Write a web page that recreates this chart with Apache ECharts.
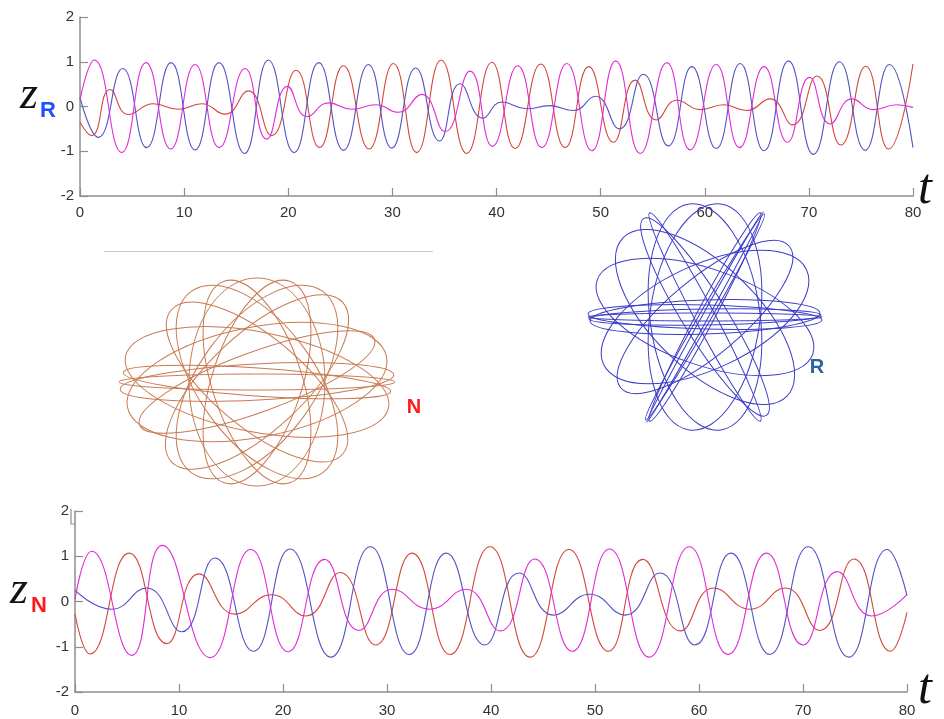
<!DOCTYPE html>
<html>
<head>
<meta charset="utf-8">
<script src="https://cdn.jsdelivr.net/npm/echarts@6/dist/echarts.min.js"></script>
<style>html,body{margin:0;padding:0;background:#fff}#c{width:944px;height:719px}</style>
</head>
<body>
<div id="c"></div>
<script>
// ---- data ----
var xTicks = [0, 10, 20, 30, 40, 50, 60, 70, 80];
var yTicks = [-2, -1, 0, 1, 2];

// top panel z_R : [t, value] at turning points
var topRed = [[0,-0.35],[1.12,-0.65],[2.88,0.38],[4.64,-0.18],[7.04,0.06],[9.45,-0.06],[11.69,0.06],[13.93,-0.17],[16.17,0.35],[18.41,-0.65],[20.75,0.81],[23.0,-0.92],[25.3,0.91],[27.76,-0.95],[30.1,0.96],[32.34,-1.03],[34.68,1.04],[37.14,-1.05],[39.55,0.99],[41.79,-0.94],[44.25,0.95],[46.59,-0.92],[48.86,0.89],[51.23,-0.8],[53.31,0.59],[55.33,-0.3],[57.32,0.14],[59.56,-0.07],[61.8,0.04],[64.04,-0.09],[66.28,0.17],[68.46,-0.41],[70.77,0.68],[73.07,-0.86],[75.47,0.9],[77.65,-0.95],[80,0.95]];
var topBlue = [[0,0.2],[1.76,-0.69],[4.1,0.85],[6.4,-0.92],[8.74,0.98],[11.05,-0.97],[13.35,0.98],[15.79,-1.05],[18.09,1.04],[20.56,-1.03],[22.93,0.98],[25.3,-0.98],[27.7,0.94],[29.94,-0.93],[32.24,0.86],[34.52,-0.77],[36.5,0.51],[38.68,-0.26],[40.5,0.1],[42.9,-0.05],[45.1,0.02],[47.4,-0.09],[49.5,0.23],[51.8,-0.5],[54.1,0.72],[56.5,-0.88],[58.76,0.89],[61.1,-0.94],[63.4,0.96],[65.7,-0.99],[68.04,1.02],[70.44,-1.07],[72.94,1.0],[75.4,-0.98],[77.74,0.94],[80,-0.92]];
var topMagenta = [[0,0.15],[1.38,1.04],[4.0,-1.03],[6.34,0.98],[8.71,-0.95],[11.05,0.94],[13.38,-0.92],[15.85,0.85],[17.93,-0.73],[19.92,0.45],[21.8,-0.23],[23.86,0.08],[26.1,-0.06],[28.43,0.04],[30.58,-0.13],[32.82,0.27],[35.06,-0.56],[37.46,0.79],[39.6,-0.89],[42.04,0.91],[44.35,-0.92],[46.75,0.96],[49.15,-0.99],[51.45,1.02],[53.8,-1.05],[56.36,0.98],[58.6,-0.97],[61.1,0.94],[63.34,-0.92],[65.7,0.89],[67.95,-0.8],[70.06,0.65],[72.05,-0.39],[74.13,0.17],[76.2,-0.07],[78.45,0.04],[80,-0.02]];

// bottom panel z_N
var botRed = [[0,-0.28],[1.44,-1.16],[5.22,1.07],[8.81,-0.93],[11.92,0.61],[15.38,-0.28],[18.91,0.15],[22.2,-0.32],[25.5,0.64],[28.9,-0.96],[32.4,1.07],[36.06,-1.17],[39.9,1.21],[43.75,-1.23],[47.5,1.15],[51.3,-1.1],[54.6,0.93],[58.2,-0.65],[61.4,0.3],[64.9,-0.17],[68.3,0.3],[71.6,-0.64],[74.9,0.94],[78.4,-1.1],[80,-0.24]];
var botBlue = [[0,0.25],[3.53,-0.17],[6.89,0.3],[10.26,-0.67],[13.46,0.96],[17.15,-1.1],[20.67,1.16],[24.6,-1.23],[28.4,1.21],[32.15,-1.17],[35.7,1.07],[39.4,-0.96],[42.7,0.63],[46.0,-0.3],[49.5,0.16],[52.9,-0.3],[56.25,0.63],[59.6,-0.96],[63.05,1.07],[66.8,-1.17],[70.5,1.21],[74.4,-1.23],[78.1,1.15],[80,0.13]];
var botMagenta = [[0,0.05],[1.6,1.11],[5.45,-1.19],[8.4,1.24],[13.0,-1.24],[16.9,1.15],[20.5,-1.11],[24.0,0.93],[27.3,-0.64],[30.5,0.27],[34.1,-0.17],[37.6,0.27],[40.9,-0.65],[44.2,0.94],[47.8,-1.1],[51.4,1.16],[55.2,-1.23],[59.07,1.21],[62.8,-1.17],[66.5,1.07],[70.0,-0.96],[73.3,0.66],[76.6,-0.32],[80,0.15]];

// orbit loops: [tilt of long axis (deg), half long axis, half short axis]
var orbitN = [[0,138,8],[3,137,18],[-4,134,14],[11,132,55],[-11,134,50],[43,117,48],[54,112,58],[-54,112,58],[-40,112,45],[90,104,68],[72,106,45],[-72,106,45],[20,125,30]];
var orbitR = [[0,117,4],[1,116,8],[-1.5,117,12],[2,115,17],[61,120,3],[60,119,6],[62,118,9],[-62,118,10],[-58,116,22],[25,112,52],[-19,114,48],[-44,114,52],[82,114,55],[98,114,55],[40,110,38]];

var RED = '#d4463a', BLUE = '#5252c4', MAG = '#e22ad6';
var AX = '#8e8e8e';

function xAx(gi, margin) {
  return {gridIndex: gi, type: 'value', min: 0, max: 80, interval: 10,
    axisLine: {onZero: false, lineStyle: {color: AX, width: 1.5}},
    axisTick: {inside: true, length: 8, lineStyle: {color: AX, width: 1.2}},
    axisLabel: {margin: margin, fontSize: 15, color: '#333', fontFamily: 'Liberation Sans',
      customValues: xTicks},
    splitLine: {show: false}};
}
function yAx(gi) {
  return {gridIndex: gi, type: 'value', min: -2, max: 2, interval: 1,
    axisLine: {show: true, onZero: false, lineStyle: {color: AX, width: 1.5}},
    axisTick: {show: true, inside: true, length: 8, lineStyle: {color: AX, width: 1.2}},
    axisLabel: {margin: 6, fontSize: 15, color: '#333', fontFamily: 'Liberation Sans'},
    splitLine: {show: false}};
}
function hid(gi, r) {
  return {gridIndex: gi, type: 'value', min: -r, max: r, show: false};
}
function line(data, color, xi) {
  return {type: 'line', data: data, xAxisIndex: xi, yAxisIndex: xi, smooth: 0.5,
    showSymbol: false, symbol: 'none', lineStyle: {color: color, width: 1.1}, silent: true};
}
function orbit(data, color, gi) {
  return {type: 'custom', coordinateSystem: 'cartesian2d', xAxisIndex: gi, yAxisIndex: gi,
    data: data, silent: true,
    renderItem: function (params, api) {
      var c = api.coord([0, 0]);
      var s = api.size([api.value(1), api.value(2)]);
      return {type: 'ellipse', x: c[0], y: c[1], rotation: api.value(0) * Math.PI / 180,
        shape: {cx: 0, cy: 0, rx: s[0], ry: s[1]},
        style: {fill: 'none', stroke: color, lineWidth: 1}};
    }};
}
function txt(x, y, s, font, color, align) {
  return {type: 'text', x: x, y: y, silent: true,
    style: {text: s, font: font, fill: color, align: align || 'left', verticalAlign: 'middle'}};
}

var chart = echarts.init(document.getElementById('c'), null, {renderer: 'canvas'});
chart.setOption({
  animation: false,
  backgroundColor: '#fff',
  grid: [
    {left: 80, top: 17, width: 833, height: 179},
    {left: 75, top: 511, width: 832, height: 181},
    {left: 112, top: 272, width: 290, height: 220},
    {left: 580, top: 192, width: 250, height: 250}
  ],
  xAxis: [xAx(0, 9), xAx(1, 11), hid(2, 145), hid(3, 125)],
  yAxis: [yAx(0), yAx(1), hid(2, 110), hid(3, 125)],
  series: [
    line(topRed, RED, 0), line(topBlue, BLUE, 0), line(topMagenta, MAG, 0),
    line(botRed, RED, 1), line(botBlue, BLUE, 1), line(botMagenta, MAG, 1),
    orbit(orbitN, '#c87a52', 2), orbit(orbitR, '#3c3cc8', 3)
  ],
  graphic: [
    {type: 'line', shape: {x1: 104, y1: 251.5, x2: 433, y2: 251.5}, style: {stroke: '#c8c8c8', lineWidth: 1.2}, silent: true},
    {type: 'polyline', shape: {points: [[71, 509], [71, 524], [75, 524]]}, style: {stroke: AX, lineWidth: 1.2, fill: 'none'}, silent: true},
    txt(20, 96, 'z', 'italic 46px "Liberation Serif"', '#111'),
    txt(40, 111, 'R', 'bold 22px "Liberation Sans"', '#1f50ff'),
    txt(10, 591, 'z', 'italic 46px "Liberation Serif"', '#111'),
    txt(31, 606, 'N', 'bold 22px "Liberation Sans"', '#ff1a1a'),
    txt(918, 190, 't', 'italic 50px "Liberation Serif"', '#111'),
    txt(918, 690, 't', 'italic 50px "Liberation Serif"', '#111'),
    txt(414, 407, 'N', 'bold 20px "Liberation Sans"', '#ff1a1a', 'center'),
    txt(817, 367, 'R', 'bold 20px "Liberation Sans"', '#2a62a4', 'center')
  ]
});
</script>
</body>
</html>
